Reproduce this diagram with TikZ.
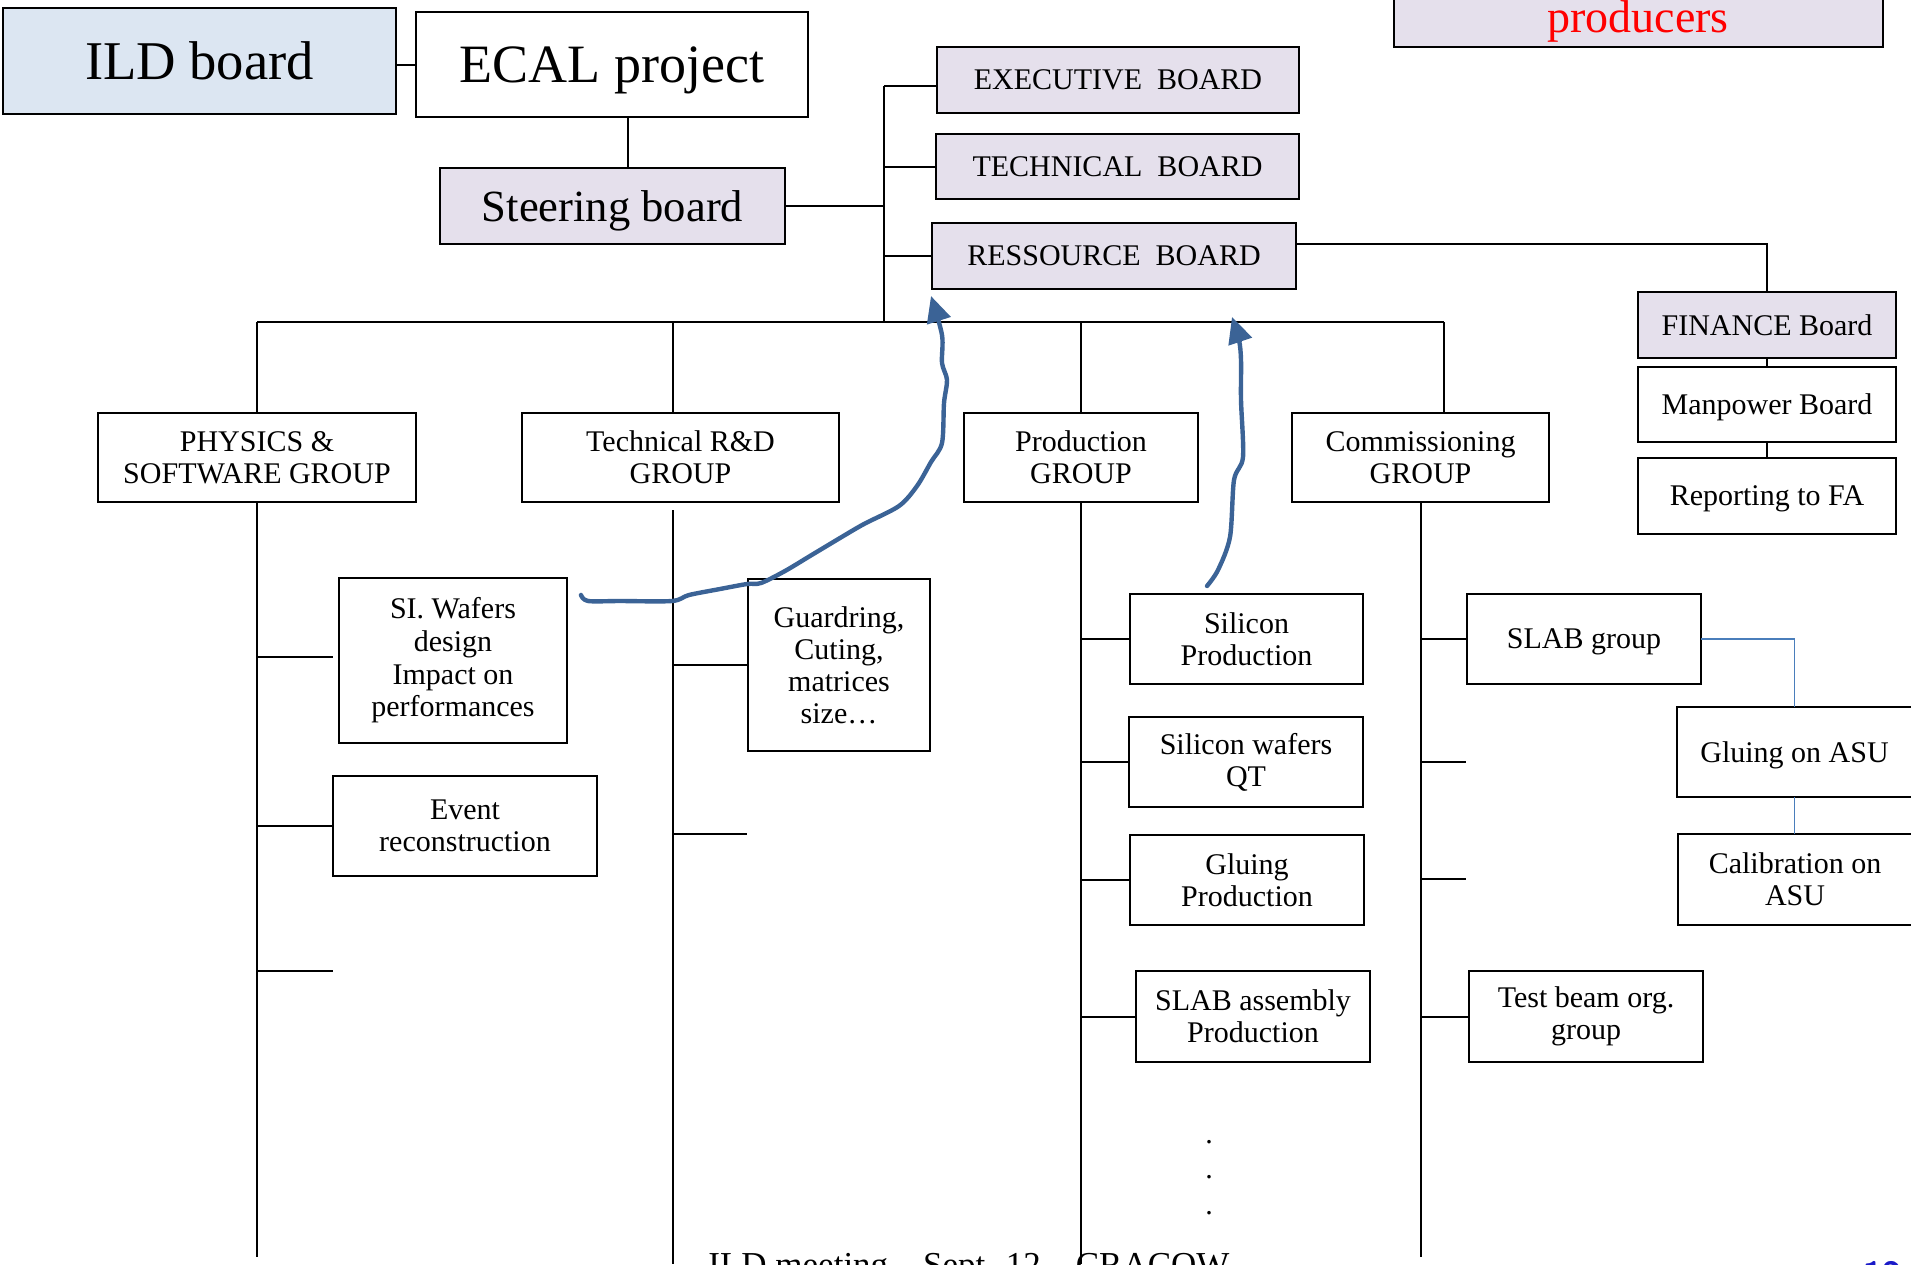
\documentclass[tikz,border=0pt]{standalone}
\usepackage{fontspec}
\setmainfont{Liberation Serif}
\usetikzlibrary{arrows.meta}
\definecolor{lav}{HTML}{E5E0EC}
\definecolor{ildblue}{HTML}{DCE6F2}
\definecolor{penblue}{HTML}{3B6396}
\definecolor{thinblue}{HTML}{4A7EBB}
\definecolor{pagenum}{HTML}{1A1AC8}
\newcommand\bx[7]{\node[#6, minimum width={(#4-#2)/2}, minimum height={(#5-#3)/2}] (#1) at ({(#2+#4)/2},{(#3+#5)/2}) {#7};}
\begin{document}
\begin{tikzpicture}[x=0.5pt,y=-0.5pt,
  box/.style={draw=black, line width=1pt, inner sep=0pt, outer sep=0pt, align=center, font=\fontsize{15}{16}\selectfont},
  lavbox/.style={box, fill=lav},
  oneline/.style={text depth=0pt},
  conn/.style={line width=1pt, draw=black},
  busline/.style={line width=1.4pt, draw=black},
  blueconn/.style={line width=0.9pt, draw=thinblue},
  handarrow/.style={draw=penblue, line width=2.2pt, line cap=round, line join=round, -{Triangle[length=13pt,width=12pt]}},
  dotnode/.style={inner sep=0pt, font=\fontsize{15}{16}\selectfont}
]
\useasboundingbox (0,0) rectangle (1911,1264);
\clip (0,0) rectangle (1911,1264);

% top boxes
\bx{ild}{3}{8}{396}{114}{box,oneline,fill=ildblue,font=\fontsize{27.3}{30}\selectfont}{ILD board}
\bx{ecal}{416}{12}{808}{117}{box,oneline,font=\fontsize{27}{30}\selectfont}{ECAL project}
\bx{steer}{440}{168}{785}{244}{lavbox,oneline,font=\fontsize{22.3}{26}\selectfont}{Steering board}
\bx{exec}{937}{47}{1299}{113}{lavbox,oneline}{EXECUTIVE\ \ BOARD}
\bx{techb}{936}{134}{1299}{199}{lavbox,oneline}{TECHNICAL\ \ BOARD}
\bx{ress}{932}{223}{1296}{289}{lavbox,oneline}{RESSOURCE\ \ BOARD}
\bx{prodcr}{1394}{-60}{1883}{47}{lavbox}{}
\node[font=\fontsize{23}{26}\selectfont, text=red, anchor=base, inner sep=0pt] (prodtxt) at (1638,32) {producers};
\bx{fin}{1638}{292}{1896}{358}{lavbox,oneline}{FINANCE Board}
\bx{man}{1638}{367}{1896}{442}{box,oneline}{Manpower Board}
\bx{rep}{1638}{458}{1896}{534}{box,oneline}{Reporting to FA}

% groups
\bx{phys}{98}{413}{416}{502}{box}{PHYSICS \&\\SOFTWARE GROUP}
\bx{trd}{522}{413}{839}{502}{box}{Technical R\&D\\GROUP}
\bx{prod}{964}{413}{1198}{502}{box}{Production\\GROUP}
\bx{comm}{1292}{413}{1549}{502}{box}{Commissioning\\GROUP}

% children
\bx{siw}{339}{578}{567}{743}{box,font=\fontsize{15}{16.3}\selectfont}{SI. Wafers\\design\\Impact on\\performances}
\bx{evt}{333}{776}{597}{876}{box}{Event\\reconstruction}
\bx{guard}{748}{579}{930}{751}{box}{Guardring,\\Cuting,\\matrices\\size\ldots}
\bx{silp}{1130}{594}{1363}{684}{box}{Silicon\\Production}
\bx{silw}{1129}{717}{1363}{807}{box}{Silicon wafers\\QT}
\bx{glup}{1130}{835}{1364}{925}{box}{Gluing\\Production}
\bx{slabp}{1136}{971}{1370}{1062}{box}{SLAB assembly\\Production}
\bx{slab}{1467}{594}{1701}{684}{box,oneline}{SLAB group}
\bx{gasu}{1677}{707}{1912}{797}{box,oneline}{Gluing on ASU}
\bx{casu}{1678}{834}{1912}{925}{box}{Calibration on\\ASU}
\bx{tbeam}{1469}{971}{1703}{1062}{box}{Test beam org.\\group}

% dots
\node[dotnode] (dot1) at (1209,1142) {.};
\node[dotnode] (dot2) at (1209,1177) {.};
\node[dotnode] (dot3) at (1209,1213) {.};

% footer
\node[font=\fontsize{17.5}{20}\selectfont, anchor=base west, inner sep=0pt] (foot) at (708,1276) {ILD meeting -- Sept. 12 -- CRACOW};
\node[font=\sffamily\bfseries\fontsize{17.5}{20}\selectfont, text=pagenum, anchor=base west, inner sep=0pt] (pgnum) at (1863,1286) {12};

% coordinates
\coordinate (spT) at (884,86);
\coordinate (spB) at (884,322);
\coordinate (busR) at (1444,322);
\coordinate (trdT) at (673,322);
\coordinate (trdB) at (673,510);

% top connectors
\draw[conn] (ild.east |- 0,65) -- (ecal.west |- 0,65);
\draw[conn] (ecal.south -| 628,0) -- (steer.north -| 628,0);
\draw[conn] (spT) -- (spB);
\draw[conn] (spT) -- (exec.west |- spT);
\draw[conn] (spT |- techb.west) -- (techb.west);
\draw[conn] (spT |- ress.west) -- (ress.west);
\draw[conn] (steer.east) -- (steer.east -| spT);
\draw[conn] (ress.east |- 0,244) -| (fin.north);
\draw[conn] (fin.south) -- (man.north);
\draw[conn] (man.south) -- (rep.north);

% bus
\draw[busline] (phys.north |- busR) -- (busR);
\draw[conn] (phys.north) -- (phys.north |- busR);
\draw[conn] (trdT) -- (trd.north -| trdT);
\draw[conn] (prod.north) -- (prod.north |- busR);
\draw[conn] (busR) -- (busR |- comm.north);

% group verticals
\draw[conn] (phys.south) -- (phys.south |- 0,1257);
\draw[conn] (trdB) -- (trdB |- 0,1264);
\draw[conn] (prod.south) -- (prod.south |- 0,1264);
\draw[conn] (comm.south) -- (comm.south |- 0,1257);

% physics branches
\draw[conn] (phys.south |- 0,657) -- (333,657);
\draw[conn] (phys.south |- evt.west) -- (evt.west);
\draw[conn] (phys.south |- 0,971) -- (333,971);
% technical branches
\draw[conn] (trdB |- guard.west) -- (guard.west);
\draw[conn] (trdB |- 0,834) -- (747,834);
% production branches
\draw[conn] (prod.south |- silp.west) -- (silp.west);
\draw[conn] (prod.south |- silw.west) -- (silw.west);
\draw[conn] (prod.south |- glup.west) -- (glup.west);
\draw[conn] (prod.south |- slabp.west) -- (slabp.west);
% commissioning branches
\draw[conn] (comm.south |- slab.west) -- (slab.west);
\draw[conn] (comm.south |- 0,762) -- (1466,762);
\draw[conn] (comm.south |- 0,879) -- (1466,879);
\draw[conn] (comm.south |- tbeam.west) -- (tbeam.west);

% blue thin
\draw[blueconn] (slab.east) -| (gasu.north);
\draw[blueconn] (gasu.south) -- (gasu.south |- casu.north);

% hand-drawn arrows
\coordinate (a1s) at (581,595);
\coordinate (a1e) at (931,296);
\coordinate (a2s) at (1207,586);
\coordinate (a2e) at (1232,317);
\draw[handarrow] plot[smooth, tension=0.5] coordinates {(a1s) (588,601) (620,601) (672,601) (689,595) (720,589) (747,584) (761,583) (785,571) (810,556) (840,538) (864,524) (899,506) (917,486) (931,462) (942,443) (944,403) (947,380) (942,363) (942,335) (a1e)};
\draw[handarrow] plot[smooth, tension=0.5] coordinates {(a2s) (1218,570) (1230,537) (1234,480) (1243,457) (1241,400) (1241,360) (1239,340) (a2e)};
\end{tikzpicture}
\end{document}
